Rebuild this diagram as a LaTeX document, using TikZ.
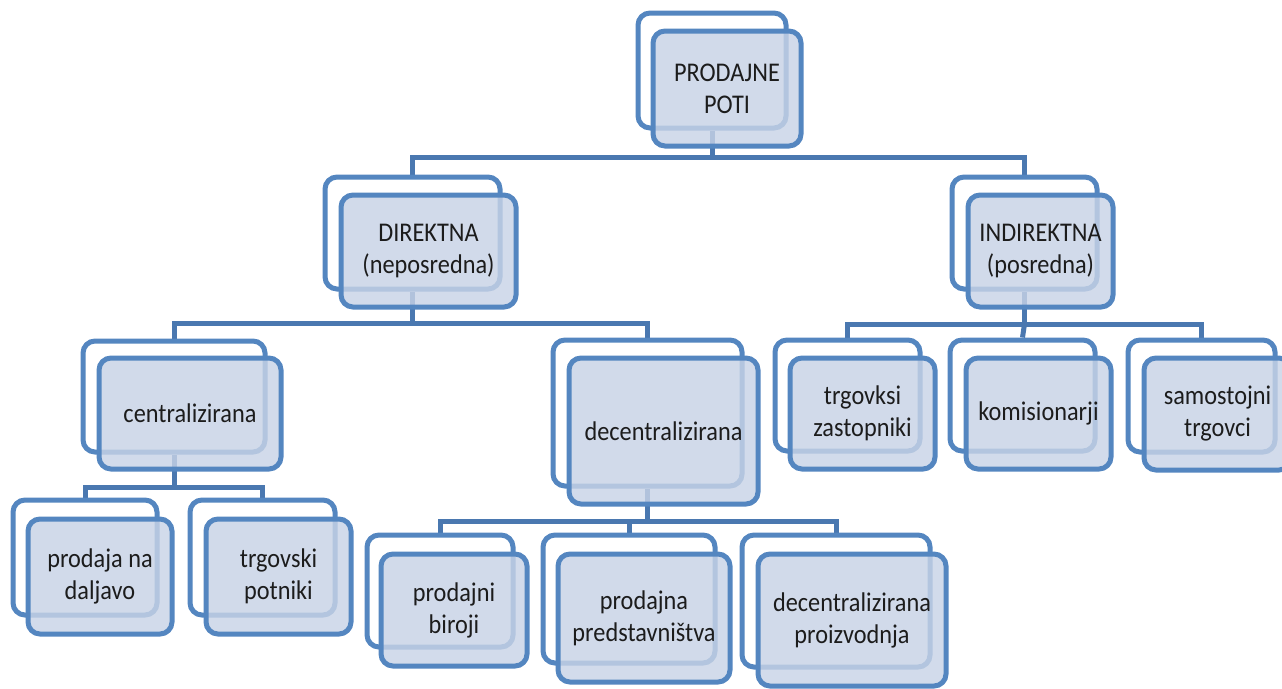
\documentclass[tikz,border=0pt]{standalone}
\usepackage{fontspec}
\setmainfont{Carlito}[FakeStretch=0.9]
\usetikzlibrary{backgrounds}
\definecolor{boxblue}{RGB}{84,134,192}
\definecolor{connblue}{RGB}{74,120,176}
\definecolor{frontfill}{RGB}{200,211,230}
\definecolor{labeltext}{RGB}{28,28,28}
\tikzset{
  backbox/.style 2 args={draw=boxblue, line width=5pt, fill=white, rounded corners=12pt,
    inner sep=0pt, minimum width=#1pt, minimum height=#2pt},
  frontbox/.style 2 args={draw=boxblue, line width=5pt, fill=frontfill, fill opacity=0.82,
    text opacity=1, rounded corners=12pt, inner sep=2pt, align=center, text=labeltext,
    font=\fontsize{27}{32}\selectfont, minimum width=#1pt, minimum height=#2pt},
  conn/.style={draw=connblue, line width=5pt, line join=miter}
}
\begin{document}
\begin{tikzpicture}[x=1pt, y=-1pt]
\useasboundingbox (0,0) rectangle (1282,688);
\coordinate (bar0) at (0,157);
\coordinate (bar1) at (0,323);
\coordinate (bar2) at (0,324);
\coordinate (bar3) at (0,487);
\coordinate (bar4) at (0,521);

% back boxes
\node[backbox={148}{115}] (pb)  at (712,70.5) {};
\node[backbox={175}{112}] (db)  at (412.5,233) {};
\node[backbox={145}{112}] (ib)  at (1024.5,233) {};
\node[backbox={182}{111}] (cb)  at (174,396.5) {};
\node[backbox={189}{146}] (dcb) at (647.5,413) {};
\node[backbox={145}{111}] (tzb) at (847.5,395.5) {};
\node[backbox={145}{111}] (kb)  at (1022.5,395.5) {};
\node[backbox={147}{112}] (stb) at (1201.5,396) {};
\node[backbox={144}{115}] (pdb) at (85,557.5) {};
\node[backbox={145}{115}] (tpb) at (262.5,557.5) {};
\node[backbox={146}{112}] (prb) at (440,591) {};
\node[backbox={172}{128}] (ppb) at (629,599) {};
\node[backbox={188}{132}] (dpb) at (836,601) {};

% front boxes with the labels
\node[frontbox={148}{115}] (p)  at ([shift={(15,18)}]pb.center)  {PRODAJNE\\POTI};
\node[frontbox={175}{112}] (d)  at ([shift={(16,18)}]db.center)  {DIREKTNA\\(neposredna)};
\node[frontbox={145}{112}] (i)  at ([shift={(16,18)}]ib.center)  {INDIREKTNA\\(posredna)};
\node[frontbox={182}{111}] (c)  at ([shift={(16,17)}]cb.center)  {centralizirana};
\node[frontbox={189}{146}] (dc) at ([shift={(16,18)}]dcb.center) {decentralizirana};
\node[frontbox={145}{111}] (tz) at ([shift={(15,18)}]tzb.center) {trgovksi\\zastopniki};
\node[frontbox={145}{111}] (k)  at ([shift={(16,18)}]kb.center)  {komisionarji};
\node[frontbox={147}{112}] (st) at ([shift={(16,18)}]stb.center) {samostojni\\trgovci};
\node[frontbox={144}{115}] (pd) at ([shift={(15,19)}]pdb.center) {prodaja na\\daljavo};
\node[frontbox={145}{115}] (tp) at ([shift={(16,19)}]tpb.center) {trgovski\\potniki};
\node[frontbox={146}{112}] (pr) at ([shift={(14,19)}]prb.center) {prodajni\\biroji};
\node[frontbox={172}{128}] (pp) at ([shift={(15,19)}]ppb.center) {prodajna\\predstavništva};
\node[frontbox={188}{132}] (dp) at ([shift={(16,19)}]dpb.center) {decentralizirana\\proizvodnja};

% connectors behind the boxes
\begin{scope}[on background layer]
  \draw[conn] (db.north) |- (pb.south |- bar0) -- (pb.south);
  \draw[conn] (ib.north) |- (pb.south |- bar0);

  \draw[conn] (cb.north) |- (db.south |- bar1) -- (db.south);
  \draw[conn] (dcb.north) |- (db.south |- bar1);

  \draw[conn] (tzb.north) |- (ib.south |- bar2) -- (ib.south);
  \draw[conn] (kb.north) -- (ib.south |- bar2);
  \draw[conn] (stb.north) |- (ib.south |- bar2);

  \draw[conn] (pdb.north) |- (cb.south |- bar3) -- (cb.south);
  \draw[conn] (tpb.north) |- (cb.south |- bar3);

  \draw[conn] (prb.north) |- (dcb.south |- bar4) -- (dcb.south);
  \draw[conn] (ppb.north) |- (dcb.south |- bar4);
  \draw[conn] (dpb.north) |- (dcb.south |- bar4);
\end{scope}
\end{tikzpicture}
\end{document}
